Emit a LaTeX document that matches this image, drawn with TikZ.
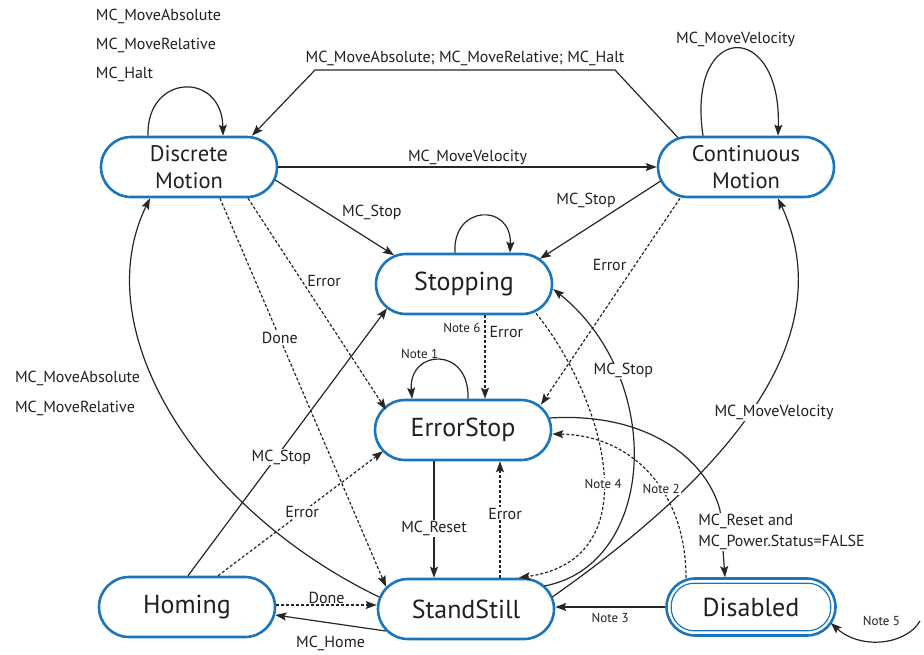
\documentclass[tikz,border=0pt]{standalone}
\usepackage{fontspec}
\setmainfont{PT Sans}
\usepackage{tikz}
\usetikzlibrary{arrows.meta,calc}
\definecolor{sb}{HTML}{1B75BC}
\definecolor{tx}{HTML}{231F20}
\tikzset{
  stbox/.style={draw=sb, line width=2.6pt, rounded corners=30pt, minimum width=176pt,
    minimum height=60pt, inner sep=0pt, align=center, text=tx, font=\fontsize{26}{28}\selectfont},
  mvbox/.style={stbox, font=\fontsize{22.5}{27}\selectfont},
  lbl/.style={font=\fontsize{16}{19}\selectfont, text=tx, inner sep=1pt},
  nt/.style={font=\fontsize{13}{15}\selectfont, text=tx, inner sep=1pt},
  tr/.style={draw=black!85, line width=1.2pt, -{Stealth[length=11pt,width=8pt,inset=2pt]}},
  dtr/.style={tr, dash pattern=on 3pt off 2pt},
}

\begin{document}
\begin{tikzpicture}[x=1pt,y=-1pt]
  \useasboundingbox (0,0) rectangle (924,654);

  % states
  \node[mvbox] (dm) at (189,167) {Discrete\\Motion};
  \node[mvbox] (cm) at (746,167) {Continuous\\Motion};
  \node[stbox] (stp) at (464,284) {Stopping};
  \node[stbox] (es) at (463,430) {ErrorStop};
  \node[stbox] (hom) at (187,607) {Homing};
  \node[stbox] (ss) at (466,609) {StandStill};
  \node[stbox, minimum width=169pt, minimum height=57pt, rounded corners=28.5pt] (dis) at (751,607) {Disabled};
  \draw[sb, line width=1.2pt, rounded corners=23pt] ($(dis.south west)+(6,-6)$) rectangle ($(dis.north east)+(-6,6)$);

  \coordinate (haltR) at (615,70);
  \coordinate (haltL) at (315,70);
  \coordinate (rstbend) at (720,510);
  \coordinate (n5) at (920,621);

  % motion commands
  \draw[tr] ($(dm.north)+(-41,0)$) .. controls +(-2,-62) and +(-1,-65) .. ($(dm.north)+(34,0)$)
    node[lbl, pos=0.5, anchor=south west, xshift=-90pt, yshift=5pt, align=left,
      font=\fontsize{16}{29}\selectfont] {MC\_MoveAbsolute\\MC\_MoveRelative\\MC\_Halt};
  \draw[tr] ($(cm.north)+(-68,2)$) -- (haltR) -- (haltL)
    node[lbl, midway, above=3pt] {MC\_MoveAbsolute; MC\_MoveRelative; MC\_Halt} -- ($(dm.north)+(63,0)$);
  \draw[tr] (dm.east) -- (cm.west) node[lbl, midway, above=1pt] {MC\_MoveVelocity};
  \draw[tr] ($(cm.north)+(-43,0)$) .. controls +(-17,-115) and +(4,-117) .. ($(cm.north)+(32,0)$)
    node[lbl, pos=0.5, above=0pt] {MC\_MoveVelocity};
  \draw[tr] ($(ss.west)+(2.5,-12)$) .. controls +(-180.5,-87) and +(-65,133) .. ($(dm.south)+(-39,0)$)
    node[lbl, pos=0.55, anchor=east, xshift=-19pt, align=left,
      font=\fontsize{16}{30}\selectfont] {MC\_MoveAbsolute\\MC\_MoveRelative};
  \draw[tr] ($(ss.east)+(-3,-12)$) .. controls +(209,-147) and +(57,123) .. ($(cm.south)+(32,0)$)
    node[lbl, pos=0.44, xshift=24pt, fill=white] {MC\_MoveVelocity};

  % stopping
  \draw[tr] ($(dm.east)+(-3,13)$) -- ($(stp.north)+(-70,2.5)$) node[lbl, pos=0.55, anchor=south west] {MC\_Stop};
  \draw[tr] ($(cm.west)+(4,14)$) -- ($(stp.north)+(76,6)$) node[lbl, pos=0.36, anchor=south east] {MC\_Stop};
  \draw[tr] ($(stp.north)+(-9,0)$) .. controls +(-3,-48) and +(2,-50) .. ($(stp.north)+(46,0)$);
  \draw[tr] ($(ss.east)+(-11,-23)$) .. controls +(112,-21) and +(113,91) .. ($(stp.east)+(0,5)$)
    node[lbl, pos=0.75, xshift=8pt, fill=white] {MC\_Stop};
  \draw[tr] ($(hom.north)+(1,0)$) -- ($(stp.south)+(-77,-7)$) node[lbl, pos=0.444, xshift=5pt, fill=white] {MC\_Stop};
  \draw[dtr] ($(stp.south)+(72,-2)$) .. controls +(64,78) and +(136,-19) .. ($(ss.north)+(53,0)$)
    node[nt, pos=0.55, fill=white] {Note 4};

  % errors
  \draw[dtr] ($(dm.south)+(59,0)$) -- ($(es.north)+(-77,11)$) node[lbl, pos=0.39, anchor=west, xshift=4pt] {Error};
  \draw[dtr] ($(cm.south)+(-66,0)$) -- ($(es.north)+(78,6)$) node[lbl, pos=0.325, anchor=east, xshift=-7pt] {Error};
  \draw[dtr] ($(stp.south)+(21,0)$) -- ($(es.north)+(22,0)$)
    node[nt, pos=0.15, left=3pt] {Note 6} node[lbl, pos=0.2, right=3pt] {Error};
  \draw[dtr] ($(hom.north)+(31,0)$) -- ($(es.south)+(-80,-10)$) node[lbl, pos=0.51, fill=white] {Error};
  \draw[dtr] ($(ss.north)+(34,0)$) -- ($(es.south)+(37,0)$) node[lbl, pos=0.55, xshift=5pt, fill=white] {Error};
  \draw[tr] ($(es.north)+(5,0)$) .. controls +(2,-53) and +(-4,-50) .. ($(es.north)+(-51,0)$)
    node[nt, pos=0.55, anchor=south east, xshift=5pt] {Note 1};
  \draw[tr] ($(es.south)+(-29,0)$) -- ($(ss.north)+(-32,0)$) node[lbl, pos=0.58, fill=white] {MC\_Reset};
  \draw[dtr] ($(dis.north)+(-65,1)$) .. controls +(0,-90) and +(77,1) .. ($(es.east)+(0,4)$)
    node[nt, pos=0.4, fill=white] {Note 2};
  \draw[tr] ($(es.east)+(-2.5,-12)$) .. controls +(92,-6) and +(-15,-55) .. (rstbend) -- ($(dis.north)+(-26,0)$)
    node[lbl, pos=0.33, anchor=west, xshift=-25pt, fill=white, align=left,
      font=\fontsize{16}{21}\selectfont] {MC\_Reset and\\MC\_Power.Status=FALSE};

  % standstill and homing
  \draw[dtr] ($(dm.south)+(31,0)$) -- ($(ss.north)+(-80,9)$) node[lbl, pos=0.36, fill=white] {Done};
  \draw[dtr] ($(hom.east)+(0,-2)$) -- ($(ss.west)+(0,-4)$) node[lbl, midway, above=0pt] {Done};
  \draw[tr] ($(ss.west)+(9,22)$) -- ($(hom.east)+(-1,8)$) node[lbl, midway, below=11pt] {MC\_Home};
  \draw[tr] (dis.west) -- (dis.west -| ss.east) node[nt, midway, below=5pt] {Note 3};
  \draw[tr] (n5) .. controls +(-14,24) and +(30,27) .. ($(dis.east)+(-6,16)$)
    node[nt, pos=0.5, above=14pt] {Note 5};
\end{tikzpicture}
\end{document}
